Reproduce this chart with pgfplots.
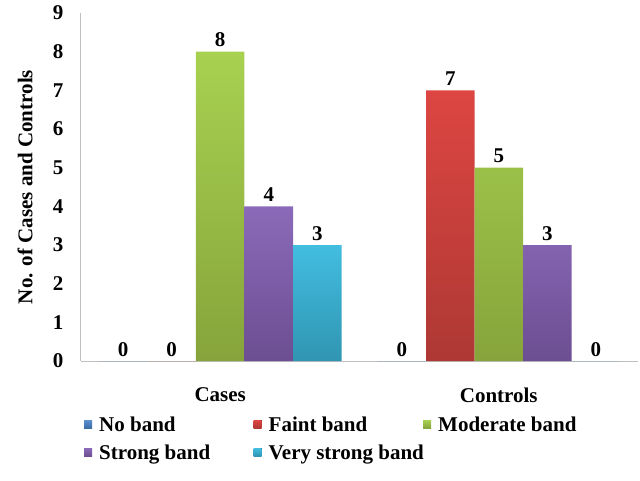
\documentclass[border=0pt]{standalone}
\usepackage{pgfplots}
\pgfplotsset{compat=1.18}
\usepackage{fontspec}
\setmainfont{Liberation Serif}
\definecolor{nbT}{HTML}{5A8FD0}\definecolor{nbB}{HTML}{3C6CA8}
\definecolor{fbT}{HTML}{DD4642}\definecolor{fbB}{HTML}{AE3834}
\definecolor{mbT}{HTML}{A8D150}\definecolor{mbB}{HTML}{86A43B}
\definecolor{sbT}{HTML}{8B6AB9}\definecolor{sbB}{HTML}{6C4E92}
\definecolor{vbT}{HTML}{42BDE0}\definecolor{vbB}{HTML}{3095B2}
\definecolor{axgray}{HTML}{BFBFBF}
\newcommand{\bigbf}{\fontsize{21}{25}\selectfont\bfseries}
\begin{document}
\begin{tikzpicture}
\path[use as bounding box] (-81pt,-119pt) rectangle (559pt,361pt);
\begin{axis}[
  at={(0,0)}, anchor=south west,
  scale only axis, width=557pt, height=348pt,
  ybar=0pt, bar width=48.5pt,
  xmin=-0.5, xmax=1.5, ymin=0, ymax=9,
  xtick={0,1}, xticklabels={Cases,Controls},
  ytick={0,1,...,9},
  major tick length=0pt,
  axis x line*=bottom, axis y line*=left,
  axis line style={axgray, line width=1pt},
  separate axis lines,
  x axis line style={-}, y axis line style={-},
  /pgf/number format/assume math mode=true,
  ticklabel style={font=\bigbf},
  yticklabel style={xshift=-14pt},
  xticklabel style={yshift=-23pt},
  ylabel={No. of Cases and Controls},
  ylabel style={font=\bigbf, at={(axis description cs:-0.1005,0.5)}, anchor=center},
  nodes near coords,
  every node near coord/.append style={font=\bigbf, yshift=1pt},
  legend columns=3,
  legend style={at={(axis description cs:0.0,-0.149)}, anchor=north west, draw=none, fill=none,
    font=\bigbf, row sep=8pt,
    /tikz/every odd column/.append style={column sep=5pt},
    /tikz/every even column/.append style={column sep=0pt}},
  legend image code/.code={\fill[#1] (0pt,-3pt) rectangle (8pt,5pt);},
]
\addplot[draw=none, fill=nbB, top color=nbT, bottom color=nbB] coordinates {(0,0) (1,0)};
\addplot[draw=none, top color=fbT, bottom color=fbB] coordinates {(0,0) (1,7)};
\addplot[draw=none, top color=mbT, bottom color=mbB] coordinates {(0,8) (1,5)};
\addplot[draw=none, top color=sbT, bottom color=sbB] coordinates {(0,4) (1,3)};
\addplot[draw=none, top color=vbT, bottom color=vbB] coordinates {(0,3) (1,0)};
\legend{\makebox[152.5pt][l]{No band},\makebox[152.5pt][l]{Faint band},\makebox[152.5pt][l]{Moderate band},\makebox[152.5pt][l]{Strong band},\makebox[152.5pt][l]{Very strong band}}
\end{axis}
\end{tikzpicture}
\end{document}
